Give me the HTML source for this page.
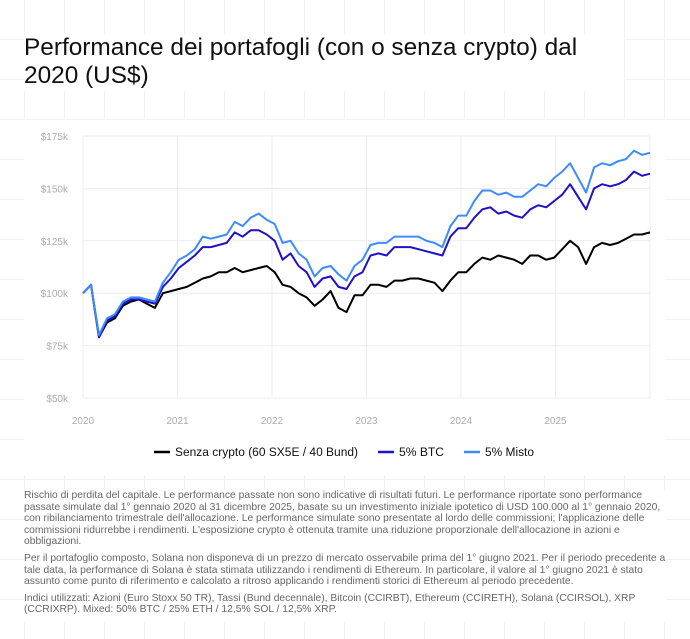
<!DOCTYPE html>
<html><head><meta charset="utf-8">
<style>
html,body{margin:0;padding:0}
body{width:690px;height:639px;position:relative;overflow:hidden;background-color:#fff;
background-image:linear-gradient(#f1f1f1 1px,transparent 1px),linear-gradient(90deg,#f1f1f1 1px,transparent 1px);
background-size:40px 40px;background-position:24px -1px;font-family:"Liberation Sans",sans-serif}
#title{position:absolute;left:24px;top:34px;width:600px;font-size:24.4px;line-height:28px;color:#111;margin:0;font-weight:normal;background:#fff}
#card{position:absolute;left:24px;top:120px;width:641px;height:355px;background:#fff}
#chart{position:absolute;left:0;top:0}
#notes{position:absolute;left:24px;top:490px;width:642px;font-size:10.3px;line-height:11.6px;color:#666;background:#fff}
#notes p{margin:0 0 5px 0}
</style></head><body>
<h1 id="title">Performance dei portafogli (con o senza crypto) dal 2020 (US$)</h1>
<div id="card"></div>
<svg id="chart" width="690" height="480"></svg>
<div id="notes">
<p>Rischio di perdita del capitale. Le performance passate non sono indicative di risultati futuri. Le performance riportate sono performance passate simulate dal 1° gennaio 2020 al 31 dicembre 2025, basate su un investimento iniziale ipotetico di USD 100.000 al 1° gennaio 2020, con ribilanciamento trimestrale dell'allocazione. Le performance simulate sono presentate al lordo delle commissioni; l'applicazione delle commissioni ridurrebbe i rendimenti. L'esposizione crypto è ottenuta tramite una riduzione proporzionale dell'allocazione in azioni e obbligazioni.</p>
<p>Per il portafoglio composto, Solana non disponeva di un prezzo di mercato osservabile prima del 1° giugno 2021. Per il periodo precedente a tale data, la performance di Solana è stata stimata utilizzando i rendimenti di Ethereum. In particolare, il valore al 1° giugno 2021 è stato assunto come punto di riferimento e calcolato a ritroso applicando i rendimenti storici di Ethereum al periodo precedente.</p>
<p>Indici utilizzati: Azioni (Euro Stoxx 50 TR), Tassi (Bund decennale), Bitcoin (CCIRBT), Ethereum (CCIRETH), Solana (CCIRSOL), XRP (CCRIXRP). Mixed: 50% BTC / 25% ETH / 12,5% SOL / 12,5% XRP.</p>
</div>
<script>
const yTicks=[50,75,100,125,150,175];
const yLabels=["$50k","$75k","$100k","$125k","$150k","$175k"];
const xTicks=[2020,2021,2022,2023,2024,2025];
const seriesNames=["Senza crypto (60 SX5E / 40 Bund)","5% BTC","5% Misto"];
const senza=[100,104,79,86,88,94,96,97,95,93,100,101,
102,103,105,107,108,110,110,112,110,111,112,113,
110,104,103,100,98,94,97,101,93,91,99,99,
104,104,103,106,106,107,107,106,105,101,106,110,
110,114,117,116,118,117,116,114,118,118,116,117,
121,125,122,114,122,124,123,124,126,128,128,129];
const btc=[100,104,79,87,89,95,97,97,96,95,103,107,
112,115,118,122,122,123,124,129,127,130,130,128,
125,116,119,113,110,103,107,108,103,102,108,110,
118,119,118,122,122,122,121,120,119,118,127,131,
131,136,140,141,138,139,137,136,140,142,141,144,
147,152,146,140,150,152,151,152,154,158,156,157];
const misto=[100,104,80,88,90,96,98,98,97,96,105,110,
116,118,121,127,126,127,128,134,132,136,138,135,
133,124,125,119,116,108,112,113,109,106,113,116,
123,124,124,127,127,127,127,125,124,122,132,137,
137,144,149,149,147,148,146,146,149,152,151,155,
158,162,155,148,160,162,161,163,164,168,166,167];
const colors=["#000000","#2010c8","#3d8bfd"];

const svg=document.getElementById('chart');
const NS="http://www.w3.org/2000/svg";
const L=83,R=650,T=136,B=398;
const x=t=>L+(t-2020)/6*(R-L);
const y=v=>B-(v-50)/125*(B-T);
function mk(tag,attrs){const e=document.createElementNS(NS,tag);for(const k in attrs)e.setAttribute(k,attrs[k]);svg.appendChild(e);return e;}
yTicks.forEach((v,i)=>{
 const g=mk('line',{x1:L,x2:R,y1:y(v),y2:y(v),stroke:'#ececec','stroke-width':1});
 
 
 const t=mk('text',{x:68,y:y(v)+4,'text-anchor':'end','font-size':10,fill:'#aaa','font-family':'Liberation Sans, sans-serif'});
 t.textContent=yLabels[i];
 
 
});
xTicks.forEach(v=>{
 const g=mk('line',{x1:x(v),x2:x(v),y1:T,y2:B,stroke:'#ececec','stroke-width':1});
 
 
 const t=mk('text',{x:x(v),y:424,'text-anchor':'middle','font-size':10,fill:'#aaa','font-family':'Liberation Sans, sans-serif'});
 t.textContent=String(v);
 
 
});
const rl=mk('line',{x1:R,x2:R,y1:T,y2:B,stroke:'#ececec'});


[senza,btc,misto].forEach((s,si)=>{
 const n=s.length;
 const pts=s.map((v,i)=>x(2020+i*6/(n-1)).toFixed(1)+','+y(v).toFixed(1)).join(' ');
 const p=mk('polyline',{points:pts,fill:'none',stroke:colors[si],'stroke-width':2,'stroke-linejoin':'round'});
 
 
});
const lx=[154,378,464];
const lw=[183,45,49];
seriesNames.forEach((nm,i)=>{
 const l=mk('line',{x1:lx[i],x2:lx[i]+16,y1:452,y2:452,stroke:colors[i],'stroke-width':2.5});
 
 
 const t=mk('text',{x:lx[i]+21,y:456,'font-size':11.5,fill:'#111','font-family':'Liberation Sans, sans-serif',textLength:lw[i],lengthAdjust:'spacingAndGlyphs'});
 t.textContent=nm;
 
 
});
</script>
</body></html>
